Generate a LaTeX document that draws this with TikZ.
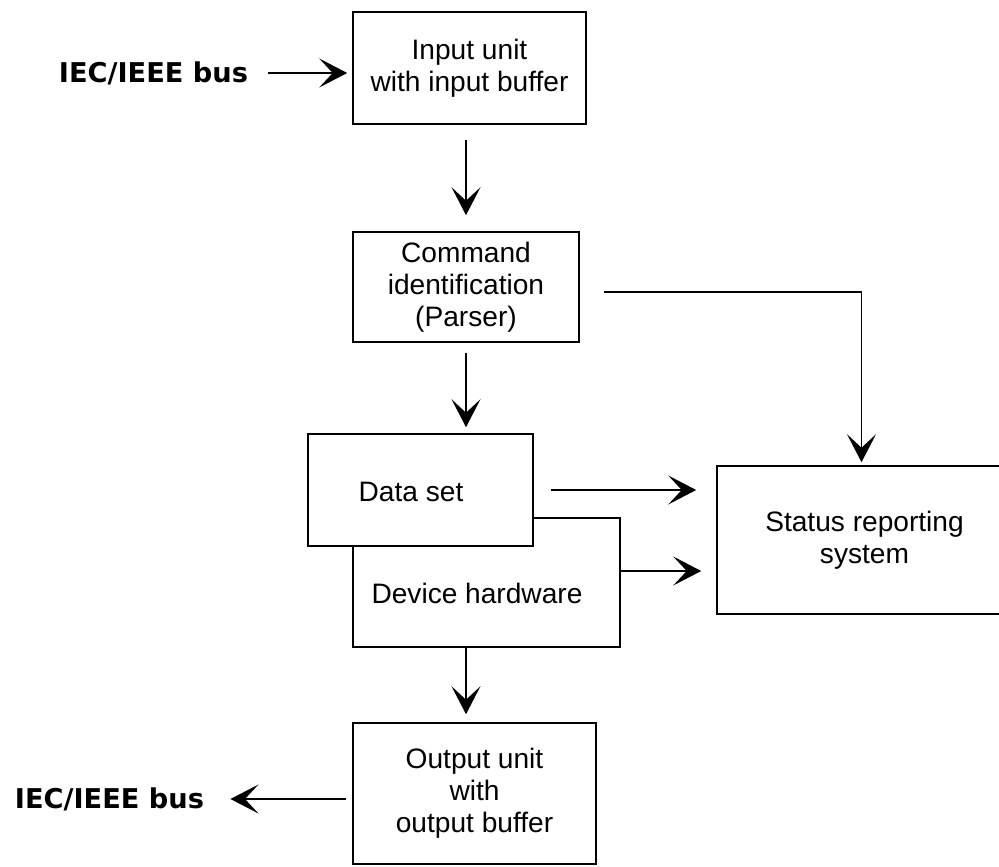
\documentclass[tikz,border=0pt]{standalone}
\usepackage{fontspec}
\setmainfont{Liberation Sans}
\newfontfamily\busfont{DejaVu Sans}
\usepackage{tikz}
\usetikzlibrary{arrows.meta, positioning, calc}
\tikzset{
  unitbox/.style={rectangle, draw=black, fill=white, align=center,
    inner sep=0pt, line width=0.9pt,
    font=\fontsize{16}{18.2}\selectfont},
  buslabel/.style={font=\busfont\bfseries\fontsize{15.5}{18}\selectfont, inner sep=0pt},
  plainlabel/.style={font=\fontsize{16}{18.2}\selectfont, inner sep=0pt},
  arrow/.style={-{Stealth[length=0.56cm, width=0.58cm, inset=0.27cm]}, line width=0.8pt, color=black}
}

\begin{document}
\begin{tikzpicture}
  \useasboundingbox (0,0) rectangle (19.98,-17.32);

  % Bus labels
  \node[buslabel] (busin) at (3.07,-1.46) {IEC/IEEE bus};
  \node[buslabel] (busout) at (2.19,-15.98) {IEC/IEEE bus};

  % Units
  \node[unitbox, minimum width=4.66cm, minimum height=2.24cm] (inp) at (9.39,-1.36) {Input unit\\with input buffer};
  \node[unitbox, minimum width=4.52cm, minimum height=2.2cm] (cmd) at (9.32,-5.74) {Command\\identification\\(Parser)};
  \node[unitbox, minimum width=5.34cm, minimum height=2.58cm] (dev) at (9.73,-11.65) {};
  \node[plainlabel] (devlbl) at (9.54,-11.86) {Device hardware};
  \node[unitbox, minimum width=4.5cm, minimum height=2.24cm] (data) at (8.41,-9.8) {};
  \node[plainlabel] (datalbl) at (8.22,-9.84) {Data set};
  \node[unitbox, minimum width=5.9cm, minimum height=2.96cm] (status) at (17.29,-10.8) {Status reporting\\system};
  \node[unitbox, minimum width=4.86cm, minimum height=2.82cm] (out) at (9.49,-15.87) {Output unit\\with\\output buffer};

  % Connections
  \draw[arrow, shorten <=0.4cm, shorten >=0.1cm] (busin.east) -- (busin.east -| inp.west);
  \draw[arrow, shorten <=0.3cm, shorten >=0.32cm] (inp.south -| cmd.north) -- (cmd.north);
  \draw[arrow, shorten <=0.2cm, shorten >=0.12cm] (cmd.south) -- (cmd.south |- data.north);
  \draw[arrow, shorten <=0.48cm, shorten >=0.06cm] ([yshift=-0.1cm]cmd.east) -| ([xshift=-0.06cm]status.north);
  \draw[arrow, shorten <=0.34cm, shorten >=0.4cm] (data.east) -- (data.east -| status.west);
  \draw[arrow, shorten >=0.3cm] ([yshift=0.23cm]dev.east) -- ([yshift=0.23cm]dev.east -| status.west);
  \draw[arrow, shorten >=0.16cm] (dev.south -| cmd.south) -- (out.north -| cmd.south);
  \draw[arrow, shorten <=0.12cm, shorten >=0.52cm] (out.west |- busout) -- (busout.east);
\end{tikzpicture}
\end{document}
